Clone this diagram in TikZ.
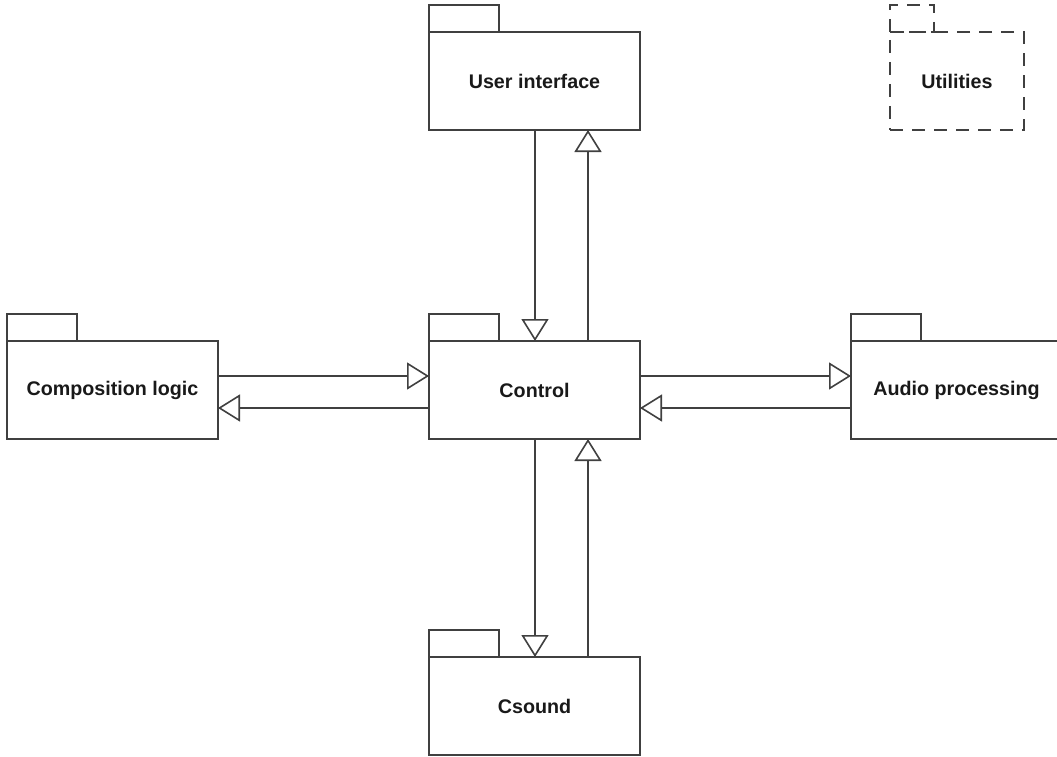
\documentclass[tikz,border=0pt]{standalone}
\usepackage{fontspec}
\setmainfont{Liberation Sans}
\usetikzlibrary{arrows.meta}
\definecolor{lc}{HTML}{404040}
\begin{document}
\begin{tikzpicture}[x=1pt,y=-1pt,
  pkg/.style={draw=lc, line width=1.6pt, minimum width=211pt, minimum height=98pt,
    inner sep=0pt, outer sep=0pt, anchor=north west,
    font=\fontsize{19.7}{24}\selectfont\bfseries, text=black!90},
  tab/.style={draw=lc, line width=1.6pt},
  dsh/.style={dash pattern=on 13pt off 9pt},
  arr/.style={draw=lc, line width=1.6pt, -{Triangle[open, length=22pt, width=27pt, fill=white]}}]
\useasboundingbox[fill=white] (0,0) rectangle (1057,757);
\clip (0,0) rectangle (1057,757);
% packages
\node[pkg] (ui) at (429,32) {User interface};
\node[pkg] (ctrl) at (429,341) {Control};
\node[pkg] (comp) at (7,341) {Composition logic};
\node[pkg] (audio) at (851,341) {Audio processing};
\node[pkg] (cs) at (429,657) {Csound};
\node[pkg, dsh, minimum width=134pt] (util) at (890,32) {Utilities};
% tabs
\foreach \n in {ui,ctrl,comp,audio,cs}
  \draw[tab] (\n.north west) rectangle ++(70,-27);
\draw[tab, dsh] (util.north west) rectangle ++(44,-27);
% connectors
\draw[arr] ([xshift=0.5pt]ui.south) -- ([xshift=0.5pt]ctrl.north);
\draw[arr] ([xshift=53.5pt]ctrl.north) -- ([xshift=53.5pt]ui.south);
\draw[arr] ([xshift=0.5pt]ctrl.south) -- ([xshift=0.5pt]cs.north);
\draw[arr] ([xshift=53.5pt]cs.north) -- ([xshift=53.5pt]ctrl.south);
\draw[arr] ([yshift=14pt]comp.east) -- ([yshift=14pt]ctrl.west);
\draw[arr] ([yshift=-18pt]ctrl.west) -- ([yshift=-18pt]comp.east);
\draw[arr] ([yshift=14pt]ctrl.east) -- ([yshift=14pt]audio.west);
\draw[arr] ([yshift=-18pt]audio.west) -- ([yshift=-18pt]ctrl.east);
\end{tikzpicture}
\end{document}
